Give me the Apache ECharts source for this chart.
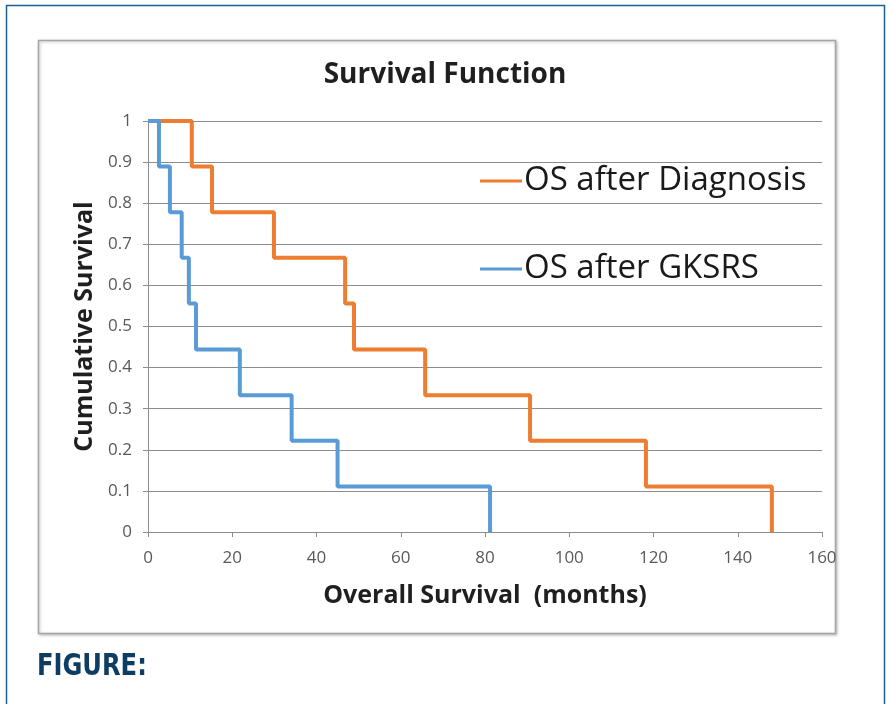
<!DOCTYPE html>
<html>
<head>
<meta charset="utf-8">
<script src="https://cdn.jsdelivr.net/npm/echarts@6/dist/echarts.min.js"></script>
<style>
  html, body { margin: 0; padding: 0; background: #ffffff; }
  #chart { width: 890px; height: 704px; }
</style>
</head>
<body>
<div id="chart"></div>
<script>
// Kaplan-Meier steps: [months, cumulative survival after the drop]
const diagnosisMonths   = [0, 10.4, 15.2, 29.9, 46.8, 48.9, 65.8, 90.7, 118.2, 148.1];
const diagnosisSurvival = [1, 0.889, 0.778, 0.667, 0.556, 0.444, 0.333, 0.222, 0.111, 0];
const gksrsMonths       = [0, 2.6, 5.2, 8.0, 9.7, 11.4, 21.8, 34.1, 45.0, 81.2];
const gksrsSurvival     = [1, 0.889, 0.778, 0.667, 0.556, 0.444, 0.333, 0.222, 0.111, 0];

const seriesNames = ['OS after Diagnosis', 'OS after GKSRS'];
const seriesColors = ['#ED7D31', '#5B9BD5'];

const chartTitle = 'Survival Function';
const xAxisTitle = 'Overall Survival  (months)';
const yAxisTitle = 'Cumulative Survival';
const captionText = 'FIGURE:';

const pairs = (xs, ys) => xs.map((x, i) => [x, ys[i]]);

const font = '"Open Sans", Lato, sans-serif';
const axisGrey = '#8c8c8c';

const chart = echarts.init(document.getElementById('chart'), null, { renderer: 'canvas' });

chart.setOption({
  backgroundColor: '#ffffff',
  animation: false,
  title: {
    text: chartTitle,
    left: 'center',
    top: 61,
    padding: 0,
    textStyle: { fontFamily: font, fontWeight: 'bold', fontSize: 28, color: '#1f1f1f' }
  },
  grid: { left: 148, right: 68, top: 121, bottom: 172, containLabel: false },
  legend: {
    orient: 'vertical',
    left: 480,
    top: 161,
    padding: 0,
    itemGap: 48,
    itemWidth: 42,
    itemHeight: 3,
    icon: 'rect',
    textStyle: { fontFamily: font, fontSize: 33, color: '#1a1a1a', lineHeight: 40, padding: [0, 0, 0, -3] },
    data: seriesNames
  },
  xAxis: {
    type: 'value',
    min: 0,
    max: 160,
    interval: 20,
    name: xAxisTitle,
    nameLocation: 'middle',
    nameGap: 51,
    nameTextStyle: { fontFamily: font, fontWeight: 'bold', fontSize: 25, color: '#1f1f1f' },
    axisLine: { show: true, lineStyle: { color: axisGrey, width: 1 } },
    axisTick: { show: true, length: 5, lineStyle: { color: axisGrey } },
    axisLabel: { margin: 18, fontFamily: font, fontSize: 17, color: '#595959' },
    splitLine: { show: false }
  },
  yAxis: {
    type: 'value',
    min: 0,
    max: 1,
    interval: 0.1,
    name: yAxisTitle,
    nameLocation: 'middle',
    nameGap: 47,
    nameTextStyle: { fontFamily: font, fontWeight: 'bold', fontSize: 25, color: '#1f1f1f' },
    axisLine: { show: true, lineStyle: { color: axisGrey, width: 1 } },
    axisTick: { show: true, length: 5, lineStyle: { color: axisGrey } },
    axisLabel: { margin: 16, fontFamily: font, fontSize: 17, color: '#595959' },
    splitLine: { show: true, lineStyle: { color: axisGrey, width: 1 } }
  },
  series: [
    {
      name: seriesNames[0],
      type: 'line',
      step: 'end',
      data: pairs(diagnosisMonths, diagnosisSurvival),
      showSymbol: false,
      symbol: 'none',
      color: seriesColors[0],
      lineStyle: { width: 4, color: seriesColors[0] },
      z: 2
    },
    {
      name: seriesNames[1],
      type: 'line',
      step: 'end',
      data: pairs(gksrsMonths, gksrsSurvival),
      showSymbol: false,
      symbol: 'none',
      color: seriesColors[1],
      lineStyle: { width: 4, color: seriesColors[1] },
      z: 3
    }
  ],
  graphic: [
    {
      type: 'rect',
      silent: true,
      z: -10,
      shape: { x: 6.5, y: 5.5, width: 878, height: 720 },
      style: { fill: 'none', stroke: '#1f5f8f', lineWidth: 1.5 }
    },
    {
      type: 'rect',
      silent: true,
      z: -9,
      shape: { x: 38.5, y: 40.5, width: 797, height: 593 },
      style: {
        fill: '#ffffff', stroke: '#a6a6a6', lineWidth: 1.5,
        shadowBlur: 3, shadowColor: 'rgba(0,0,0,0.25)', shadowOffsetX: 1, shadowOffsetY: 1
      }
    },
    {
      type: 'text',
      silent: true,
      x: 37,
      y: 667,
      scaleX: 0.78,
      style: {
        x: 0,
        y: 0,
        text: captionText,
        fill: '#0d3d63',
        fontFamily: '"DejaVu Sans", sans-serif',
        fontWeight: 'bold',
        fontSize: 31,
        verticalAlign: 'middle'
      }
    }
  ]
});
</script>
</body>
</html>
